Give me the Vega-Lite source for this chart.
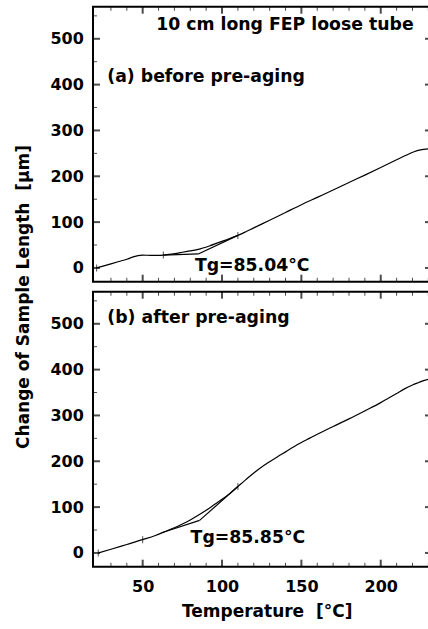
{
  "$schema": "https://vega.github.io/schema/vega-lite/v6.json",
  "padding": {"left": 13, "top": 5.7, "right": 0, "bottom": 0},
  "autosize": {"type": "pad"},
  "bounds": "flush",
  "spacing": 10,
  "config": {
    "view": {"stroke": "black", "strokeWidth": 2},
    "font": "DejaVu Sans",
    "axis": {"domain": false, "grid": false, "ticks": false, "labelColor": "black", "labelFont": "DejaVu Sans", "labelFontWeight": "bold", "labelFontSize": 16, "titleFont": "DejaVu Sans", "titleFontWeight": "bold", "titleFontSize": 17, "titleColor": "black", "labelOverlap": false, "labelFlush": false}
  },
  "datasets": {
    "a": [
      {"T":21,"v":0,"s":"c"},{"T":25,"v":4,"s":"c"},{"T":30,"v":9,"s":"c"},{"T":35,"v":14,"s":"c"},{"T":40,"v":19,"s":"c"},{"T":44,"v":24,"s":"c"},{"T":47,"v":27,"s":"c"},{"T":50,"v":28,"s":"c"},{"T":55,"v":27.5,"s":"c"},{"T":60,"v":27.5,"s":"c"},{"T":63,"v":28,"s":"c"},{"T":68,"v":30,"s":"c"},{"T":73,"v":33,"s":"c"},{"T":78,"v":36,"s":"c"},{"T":85,"v":40.5,"s":"c"},{"T":92,"v":48,"s":"c"},{"T":99,"v":57,"s":"c"},{"T":104,"v":63,"s":"c"},{"T":110,"v":71,"s":"c"},{"T":115,"v":79,"s":"c"},{"T":120,"v":87.5,"s":"c"},{"T":130,"v":104,"s":"c"},{"T":140,"v":121,"s":"c"},{"T":150,"v":138,"s":"c"},{"T":160,"v":154,"s":"c"},{"T":170,"v":170,"s":"c"},{"T":180,"v":186.5,"s":"c"},{"T":190,"v":202.5,"s":"c"},{"T":200,"v":219,"s":"c"},{"T":210,"v":236,"s":"c"},{"T":216,"v":246,"s":"c"},{"T":221,"v":253.5,"s":"c"},{"T":225,"v":257.5,"s":"c"},{"T":230,"v":260,"s":"c"},
      {"T":63,"v":28,"s":"t1"},{"T":85.04,"v":30.5,"s":"t1"},
      {"T":85.04,"v":30.5,"s":"t2"},{"T":110,"v":71,"s":"t2"}
    ],
    "b": [
      {"T":22,"v":0,"s":"c"},{"T":30,"v":8,"s":"c"},{"T":40,"v":18.5,"s":"c"},{"T":50,"v":29,"s":"c"},{"T":58,"v":38,"s":"c"},{"T":65,"v":48,"s":"c"},{"T":70,"v":55,"s":"c"},{"T":75,"v":63,"s":"c"},{"T":80,"v":72,"s":"c"},{"T":85,"v":82,"s":"c"},{"T":90,"v":93,"s":"c"},{"T":95,"v":105,"s":"c"},{"T":100,"v":117,"s":"c"},{"T":105,"v":130,"s":"c"},{"T":110,"v":145,"s":"c"},{"T":115,"v":160,"s":"c"},{"T":120,"v":174.5,"s":"c"},{"T":125,"v":187.5,"s":"c"},{"T":130,"v":199,"s":"c"},{"T":135,"v":210,"s":"c"},{"T":140,"v":220.5,"s":"c"},{"T":145,"v":231,"s":"c"},{"T":150,"v":241,"s":"c"},{"T":155,"v":250,"s":"c"},{"T":160,"v":259,"s":"c"},{"T":170,"v":276,"s":"c"},{"T":180,"v":292.5,"s":"c"},{"T":190,"v":310,"s":"c"},{"T":200,"v":328,"s":"c"},{"T":205,"v":338,"s":"c"},{"T":210,"v":348,"s":"c"},{"T":215,"v":358,"s":"c"},{"T":220,"v":366.5,"s":"c"},{"T":224,"v":372,"s":"c"},{"T":227,"v":376,"s":"c"},{"T":230,"v":379,"s":"c"},
      {"T":62,"v":44,"s":"t1"},{"T":85.85,"v":71,"s":"t1"},
      {"T":85.85,"v":71,"s":"t2"},{"T":110,"v":145,"s":"t2"}
    ],
    "aMark": [{"T":21,"v":0},{"T":63,"v":28},{"T":110,"v":71}],
    "bMark": [{"T":22,"v":0},{"T":50,"v":29},{"T":110,"v":145}],
    "aText": [
      {"T":58.5,"v":519,"label":"10 cm long FEP loose tube"},
      {"T":27.7,"v":406,"label":"(a) before pre-aging"},
      {"T":82.9,"v":-5.9,"label":"Tg=85.04°C"}
    ],
    "bText": [
      {"T":27.7,"v":502,"label":"(b) after pre-aging"},
      {"T":80.2,"v":21.7,"label":"Tg=85.85°C"}
    ],
    "xMaj": [{"T":50},{"T":100},{"T":150},{"T":200}],
    "xMin": [{"T":30},{"T":40},{"T":60},{"T":70},{"T":80},{"T":90},{"T":110},{"T":120},{"T":130},{"T":140},{"T":160},{"T":170},{"T":180},{"T":190},{"T":210},{"T":220},{"T":230}],
    "yMaj": [{"v":0},{"v":100},{"v":200},{"v":300},{"v":400},{"v":500}],
    "yMin": [{"v":50},{"v":150},{"v":250},{"v":350},{"v":450},{"v":550}]
  },
  "vconcat": [
    {
      "width": 339, "height": 275,
      "resolve": {"axis": {"x": "independent", "y": "independent"}},
      "layer": [
        {
          "data": {"name": "a"},
          "mark": {"type": "line", "color": "black", "strokeWidth": 1.2, "interpolate": "monotone"},
          "encoding": {
            "x": {"field": "T", "type": "quantitative", "scale": {"domain": [18.7, 232.3], "nice": false, "zero": false}, "axis": null},
            "y": {"field": "v", "type": "quantitative", "scale": {"domain": [-30, 570], "nice": false, "zero": false},
                  "axis": {"orient": "left", "values": [0,100,200,300,400,500], "labelPadding": 9.7,
                           "title": "Change of Sample Length \u00a0[μm]", "titleX": -64.7, "titleY": 289.8, "titleAngle": 270, "titleBaseline": "alphabetic", "titleAlign": "center"}},
            "detail": {"field": "s"}
          }
        },
        {"data": {"name": "xMaj"}, "mark": {"type": "tick", "orient": "vertical", "size": 7, "thickness": 2, "color": "black", "yOffset": -3.5},
         "encoding": {"x": {"field": "T", "type": "quantitative", "axis": null}, "y": {"datum": -30, "type": "quantitative", "axis": null}}},
        {"data": {"name": "xMaj"}, "mark": {"type": "tick", "orient": "vertical", "size": 7, "thickness": 2, "color": "black", "yOffset": 3.5},
         "encoding": {"x": {"field": "T", "type": "quantitative", "axis": null}, "y": {"datum": 570, "type": "quantitative", "axis": null}}},
        {"data": {"name": "xMin"}, "mark": {"type": "tick", "orient": "vertical", "size": 4, "thickness": 1, "color": "black", "yOffset": -2},
         "encoding": {"x": {"field": "T", "type": "quantitative", "axis": null}, "y": {"datum": -30, "type": "quantitative", "axis": null}}},
        {"data": {"name": "xMin"}, "mark": {"type": "tick", "orient": "vertical", "size": 4, "thickness": 1, "color": "black", "yOffset": 2},
         "encoding": {"x": {"field": "T", "type": "quantitative", "axis": null}, "y": {"datum": 570, "type": "quantitative", "axis": null}}},
        {"data": {"name": "yMaj"}, "mark": {"type": "tick", "orient": "horizontal", "size": 7, "thickness": 2, "color": "black", "xOffset": 3.5},
         "encoding": {"y": {"field": "v", "type": "quantitative", "axis": null}, "x": {"datum": 18.7, "type": "quantitative", "axis": null}}},
        {"data": {"name": "yMin"}, "mark": {"type": "tick", "orient": "horizontal", "size": 4, "thickness": 1, "color": "black", "xOffset": 2},
         "encoding": {"y": {"field": "v", "type": "quantitative", "axis": null}, "x": {"datum": 18.7, "type": "quantitative", "axis": null}}},
        {"data": {"name": "yMaj"}, "mark": {"type": "tick", "orient": "horizontal", "size": 7, "thickness": 2, "color": "black", "xOffset": -3.5},
         "encoding": {"y": {"field": "v", "type": "quantitative", "axis": null}, "x": {"datum": 232.3, "type": "quantitative", "axis": null}}},
        {
          "data": {"name": "aMark"},
          "mark": {"type": "tick", "orient": "vertical", "size": 7, "thickness": 1, "color": "black"},
          "encoding": {
            "x": {"field": "T", "type": "quantitative", "axis": null},
            "y": {"field": "v", "type": "quantitative", "axis": null}
          }
        },
        {
          "data": {"name": "aText"},
          "mark": {"type": "text", "align": "left", "baseline": "alphabetic", "font": "DejaVu Sans", "fontWeight": "bold", "fontSize": 17.3, "color": "black"},
          "encoding": {
            "x": {"field": "T", "type": "quantitative", "axis": null},
            "y": {"field": "v", "type": "quantitative", "axis": null},
            "text": {"field": "label"}
          }
        }
      ]
    },
    {
      "width": 339, "height": 275,
      "resolve": {"axis": {"x": "independent", "y": "independent"}},
      "layer": [
        {
          "data": {"name": "b"},
          "mark": {"type": "line", "color": "black", "strokeWidth": 1.2, "interpolate": "monotone"},
          "encoding": {
            "x": {"field": "T", "type": "quantitative", "scale": {"domain": [18.7, 232.3], "nice": false, "zero": false},
                  "axis": {"orient": "bottom", "values": [50,100,150,200], "labelPadding": 11.5,
                           "title": "Temperature \u00a0[°C]", "titleX": 173.7, "titleY": 49.6, "titleBaseline": "alphabetic", "titleAlign": "center"}},
            "y": {"field": "v", "type": "quantitative", "scale": {"domain": [-30, 570], "nice": false, "zero": false},
                  "axis": {"orient": "left", "values": [0,100,200,300,400,500], "labelPadding": 9.7, "title": null}},
            "detail": {"field": "s"}
          }
        },
        {"data": {"name": "xMaj"}, "mark": {"type": "tick", "orient": "vertical", "size": 7, "thickness": 2, "color": "black", "yOffset": -3.5},
         "encoding": {"x": {"field": "T", "type": "quantitative", "axis": null}, "y": {"datum": -30, "type": "quantitative", "axis": null}}},
        {"data": {"name": "xMaj"}, "mark": {"type": "tick", "orient": "vertical", "size": 7, "thickness": 2, "color": "black", "yOffset": 3.5},
         "encoding": {"x": {"field": "T", "type": "quantitative", "axis": null}, "y": {"datum": 570, "type": "quantitative", "axis": null}}},
        {"data": {"name": "xMin"}, "mark": {"type": "tick", "orient": "vertical", "size": 4, "thickness": 1, "color": "black", "yOffset": -2},
         "encoding": {"x": {"field": "T", "type": "quantitative", "axis": null}, "y": {"datum": -30, "type": "quantitative", "axis": null}}},
        {"data": {"name": "xMin"}, "mark": {"type": "tick", "orient": "vertical", "size": 4, "thickness": 1, "color": "black", "yOffset": 2},
         "encoding": {"x": {"field": "T", "type": "quantitative", "axis": null}, "y": {"datum": 570, "type": "quantitative", "axis": null}}},
        {"data": {"name": "yMaj"}, "mark": {"type": "tick", "orient": "horizontal", "size": 7, "thickness": 2, "color": "black", "xOffset": 3.5},
         "encoding": {"y": {"field": "v", "type": "quantitative", "axis": null}, "x": {"datum": 18.7, "type": "quantitative", "axis": null}}},
        {"data": {"name": "yMin"}, "mark": {"type": "tick", "orient": "horizontal", "size": 4, "thickness": 1, "color": "black", "xOffset": 2},
         "encoding": {"y": {"field": "v", "type": "quantitative", "axis": null}, "x": {"datum": 18.7, "type": "quantitative", "axis": null}}},
        {"data": {"name": "yMaj"}, "mark": {"type": "tick", "orient": "horizontal", "size": 7, "thickness": 2, "color": "black", "xOffset": -3.5},
         "encoding": {"y": {"field": "v", "type": "quantitative", "axis": null}, "x": {"datum": 232.3, "type": "quantitative", "axis": null}}},
        {
          "data": {"name": "bMark"},
          "mark": {"type": "tick", "orient": "vertical", "size": 7, "thickness": 1, "color": "black"},
          "encoding": {
            "x": {"field": "T", "type": "quantitative", "axis": null},
            "y": {"field": "v", "type": "quantitative", "axis": null}
          }
        },
        {
          "data": {"name": "bText"},
          "mark": {"type": "text", "align": "left", "baseline": "alphabetic", "font": "DejaVu Sans", "fontWeight": "bold", "fontSize": 17.3, "color": "black"},
          "encoding": {
            "x": {"field": "T", "type": "quantitative", "axis": null},
            "y": {"field": "v", "type": "quantitative", "axis": null},
            "text": {"field": "label"}
          }
        }
      ]
    }
  ]
}
